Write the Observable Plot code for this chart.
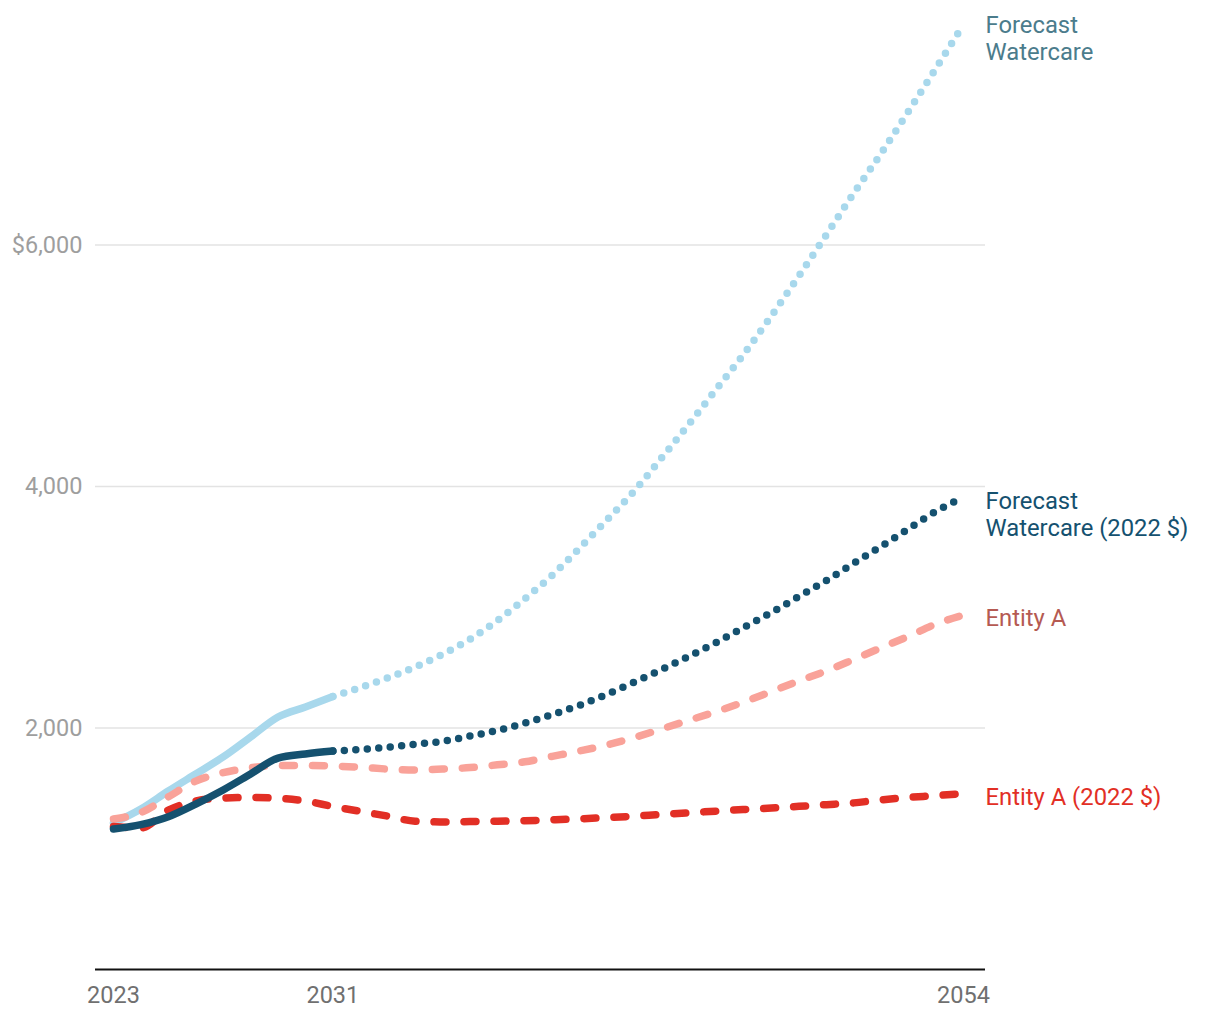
<!DOCTYPE html>
<html>
<head>
<meta charset="utf-8">
<script src="https://cdn.jsdelivr.net/npm/d3@7"></script>
<script src="https://cdn.jsdelivr.net/npm/@observablehq/plot@0.6"></script>
<style>
  html, body { margin: 0; padding: 0; background: #fff; }
  #chart svg { display: block; font-family: Roboto, "Noto Sans", sans-serif; }
</style>
</head>
<body>
<div id="chart"></div>
<script>
const years = d3.range(2023, 2055);
const watercare = [1213, 1329, 1478, 1619, 1760, 1925, 2091, 2174, 2260,
  2335, 2415, 2505, 2610, 2735, 2890, 3070, 3265, 3490, 3725, 3965,
  4240, 4520, 4810, 5100, 5415, 5745, 6085, 6430, 6760, 7110, 7465, 7825];
const watercareReal = [1164, 1200, 1265, 1370, 1487, 1619, 1751, 1785, 1809,
  1822, 1840, 1865, 1890, 1933, 1980, 2040, 2112, 2188, 2280, 2380,
  2485, 2595, 2710, 2835, 2957, 3090, 3222, 3365, 3505, 3650, 3795, 3910];
const entityA = [1246, 1300, 1430, 1560, 1630, 1670, 1690, 1690, 1685,
  1675, 1660, 1652, 1660, 1672, 1695, 1720, 1765, 1810, 1860, 1922,
  1993, 2065, 2137, 2216, 2303, 2390, 2473, 2568, 2665, 2760, 2862, 2935];
const entityAReal = [1185, 1172, 1320, 1395, 1420, 1425, 1418, 1395, 1350,
  1310, 1270, 1228, 1222, 1225, 1228, 1232, 1240, 1248, 1258, 1270,
  1285, 1298, 1312, 1325, 1337, 1351, 1365, 1380, 1405, 1425, 1440, 1458];
const forecastStart = 2031;
const yTicks = [2000, 4000, 6000];
const xTicks = [2023, 2031, 2054];

const seriesNames = ["Forecast\nWatercare", "Forecast\nWatercare (2022 $)", "Entity A", "Entity A (2022 $)"];
const lineColors = ["#a8d8ec", "#15516f", "#f9a299", "#e22f25"];
const labelColors = ["#4b7c8c", "#15516f", "#b55a52", "#e22f25"];
const labelShift = [-11, -8, -8, -8];

const rows = (vals) => years.map((year, i) => ({year, value: vals[i]}));
const wc = rows(watercare), wcr = rows(watercareReal), ea = rows(entityA), ear = rows(entityAReal);
const solid = (d) => d.year <= forecastStart;
const fc = (d) => d.year >= forecastStart;

const ends = [watercare[31], watercareReal[31], entityA[31], entityAReal[31]];
const labels = seriesNames.map((text, i) => ({year: 2054, value: ends[i], text, color: labelColors[i], shift: labelShift[i]}));

const W = 7.5;
const dotStyle = {strokeWidth: W, strokeLinecap: "round", strokeDasharray: "0 11.5"};
const dashStyle = {strokeWidth: W, strokeLinecap: "round", strokeDasharray: "12 18"};

const chart = Plot.plot({
  width: 1220,
  height: 1020,
  marginLeft: 95,
  marginRight: 235,
  marginTop: 3,
  marginBottom: 51,
  style: {fontFamily: "Roboto, 'Noto Sans', sans-serif", fontSize: "20px", background: "#fff"},
  x: {domain: [2023, 2054], insetLeft: 18, insetRight: 22, label: null},
  y: {domain: [0, 8000], label: null},
  marks: [
    Plot.ruleY(yTicks, {stroke: "#e3e3e3", strokeWidth: 1.5}),
    Plot.axisY({ticks: yTicks, tickSize: 0, tickPadding: 13, fontSize: 23.5, color: "#9e9e9e", label: null,
      tickFormat: (d) => d === 6000 ? "$6,000" : d3.format(",")(d)}),
    Plot.axisX({ticks: xTicks, tickSize: 0, tickPadding: 17, fontSize: 23.5, color: "#707070", label: null,
      tickFormat: (d) => String(d)}),
    // Forecast Watercare (nominal)
    Plot.line(wc.filter(solid), {x: "year", y: "value", stroke: lineColors[0], strokeWidth: W, strokeLinecap: "round", curve: "monotone-x"}),
    Plot.line(wc.filter(fc), {x: "year", y: "value", stroke: lineColors[0], curve: "monotone-x", ...dotStyle}),
    // Entity A (nominal)
    Plot.line(ea, {x: "year", y: "value", stroke: lineColors[2], curve: "monotone-x", ...dashStyle}),
    // Entity A (2022 $)
    Plot.line(ear, {x: "year", y: "value", stroke: lineColors[3], curve: "monotone-x", ...dashStyle}),
    // Forecast Watercare (2022 $)
    Plot.line(wcr.filter(solid), {x: "year", y: "value", stroke: lineColors[1], strokeWidth: W, strokeLinecap: "round", curve: "monotone-x"}),
    Plot.line(wcr.filter(fc), {x: "year", y: "value", stroke: lineColors[1], curve: "monotone-x", ...dotStyle}),
    Plot.ruleY([0], {stroke: "#111", strokeWidth: 2}),
    ...labels.map((l) => Plot.text([l], {x: "year", y: "value", text: "text", fill: "color", textAnchor: "start",
      lineAnchor: "top", dx: 22, dy: l.shift, fontSize: 23.8, lineHeight: 1.14}))
  ]
});
document.getElementById("chart").appendChild(chart);
</script>
</body>
</html>
